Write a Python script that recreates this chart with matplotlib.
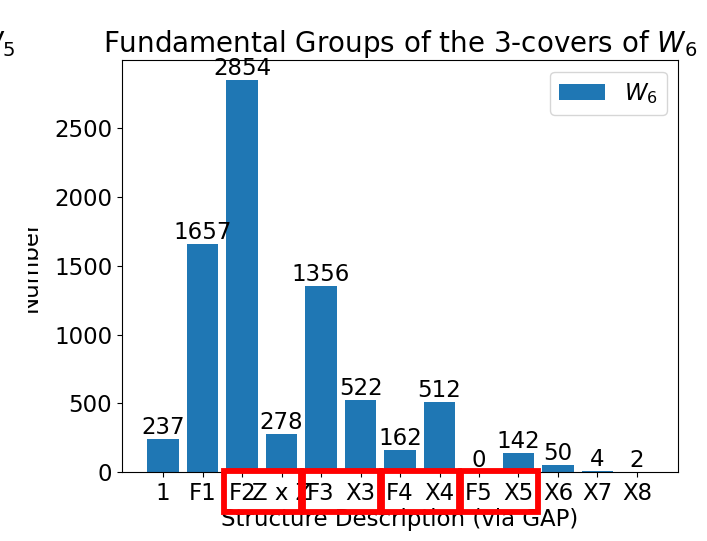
import numpy as np
import matplotlib
matplotlib.use("Agg")
import matplotlib.pyplot as plt
from matplotlib.patches import Rectangle
from matplotlib.transforms import blended_transform_factory

# structure counts for the 3-covers of W_6
labels = ["1", "F1", "F2", "Z x Z", "F3", "X3", "F4", "X4", "F5", "X5", "X6", "X7", "X8"]
counts = [237, 1657, 2854, 278, 1356, 522, 162, 512, 0, 142, 50, 4, 2]

# label groups that get boxed below the axis (first, last bar index)
boxed_groups = [(2, 3), (4, 5), (6, 7), (8, 9)]

fs = 16.5
title_fs = 20
plt.rcParams["font.size"] = fs

fig = plt.figure(figsize=(7.07, 5.41), dpi=100)
ax = fig.add_axes([0.1726, 0.1275, 0.959 - 0.1726, 0.889 - 0.1275])

x = np.arange(len(labels))
bars = ax.bar(x, counts, label="$W_6$")
ax.bar_label(bars, fontsize=fs)
ax.set_xticks(x)
ax.set_xticklabels(labels, fontsize=fs)
ax.tick_params(labelsize=fs)
ax.set_title("Fundamental Groups of the 3-covers of $W_6$", fontsize=title_fs)
ax.set_xlabel("Structure Description (via GAP)", fontsize=fs, labelpad=2)
ax.set_ylabel("Number", fontsize=fs)
ax.yaxis.set_label_coords(-0.144, 0.5)
ax.legend(loc="upper right", fontsize=fs)

# tail of the neighbouring panel's title
fig.canvas.draw()
ty = ax.title.get_window_extent().y0
fig.text(15 / 707, (ty + 1) / fig.bbox.height, "$W_5$", fontsize=title_fs,
         ha="right", va="bottom")

# neighbouring panel covers the left part of the y label
fig.add_artist(Rectangle((0, 130 / 541), 28 / 707, 280 / 541, transform=fig.transFigure,
                         facecolor="white", edgecolor="none", zorder=10))

# red boxes around the tick label groups
trans = blended_transform_factory(ax.transData, ax.transAxes)
for a, b in boxed_groups:
    ax.add_patch(Rectangle((a - 0.45, -0.097), (b - a) + 0.95, 0.1, transform=trans,
                           fill=False, edgecolor="red", linewidth=4.2, clip_on=False, zorder=5))

fig.savefig("out.png", dpi=100)
